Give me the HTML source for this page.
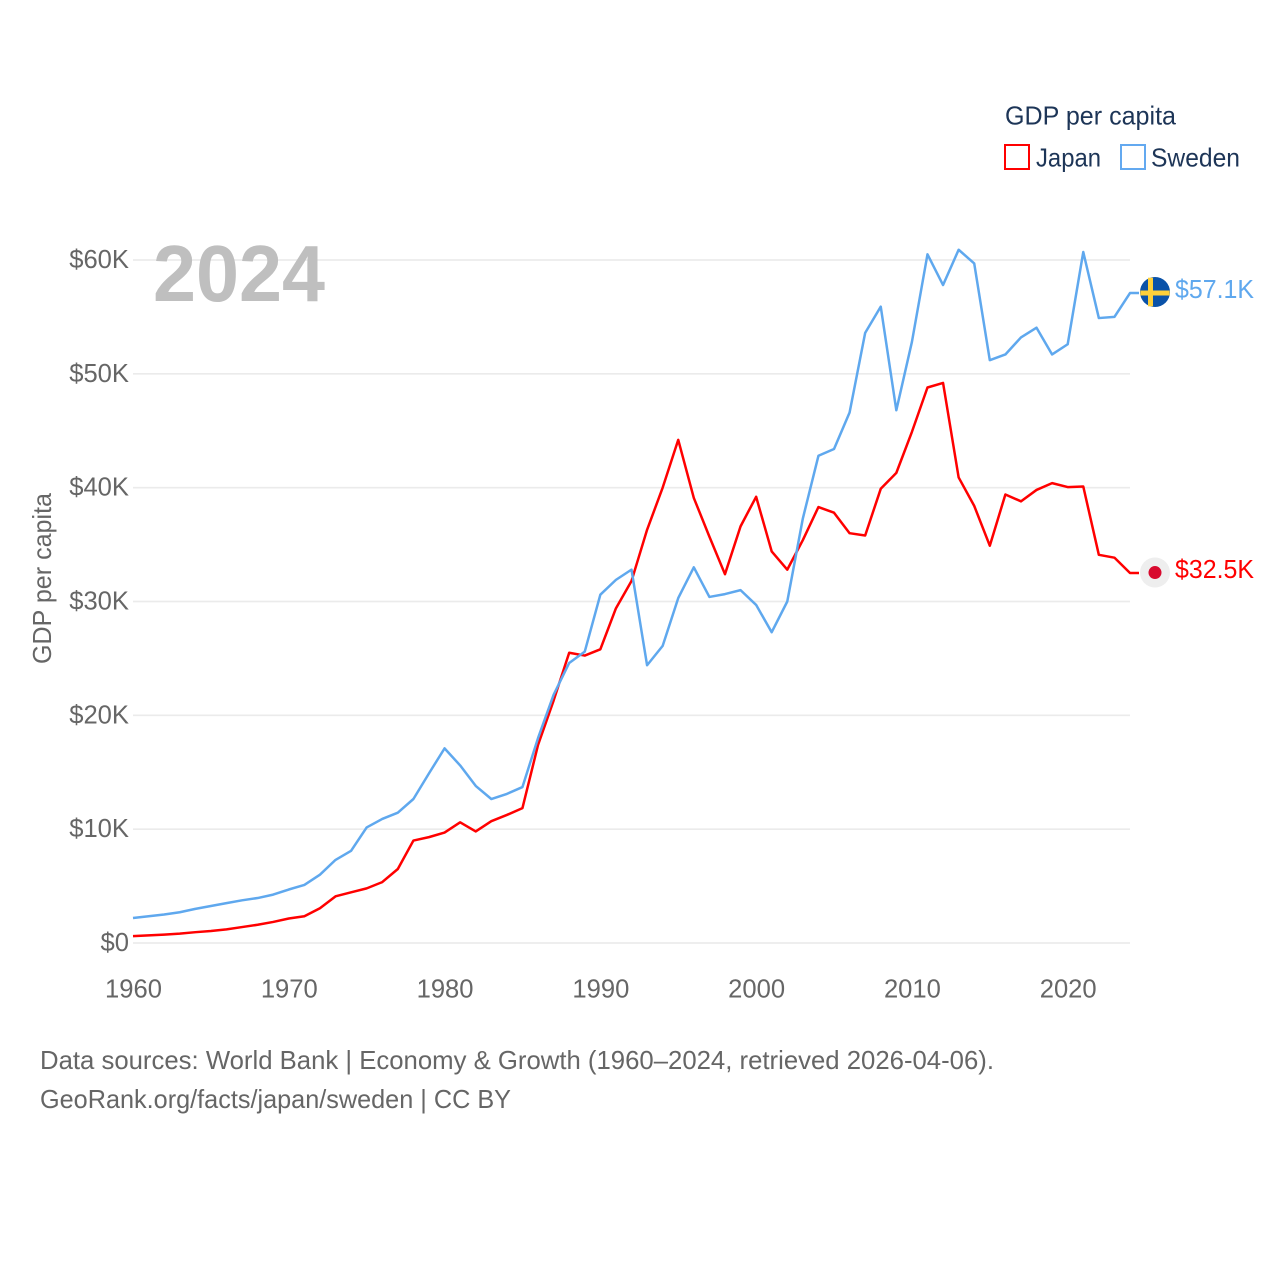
<!DOCTYPE html>
<html lang="en">
<head>
<meta charset="utf-8">
<title>GDP per capita: Japan and Sweden</title>
<style>
html,body{margin:0;padding:0;background:#fff;}
svg{display:block;font-family:"Liberation Sans",sans-serif;}
</style>
</head>
<body>
<svg id="chart" width="1280" height="1280" viewBox="0 0 1280 1280" xmlns="http://www.w3.org/2000/svg">
  <rect width="1280" height="1280" fill="#fff"/>
  <g id="grid"></g>
  <g id="yticks"></g>
  <g id="xticks"></g>
  <text x="153" y="301" font-size="80" font-weight="bold" fill="#bfbfbf" textLength="172" lengthAdjust="spacingAndGlyphs">2024</text>
  <text transform="translate(51,664) rotate(-90)" font-size="25.6" fill="#666" textLength="171" lengthAdjust="spacingAndGlyphs">GDP per capita</text>
  <g id="series"></g>
  <g id="endpoints"></g>
  <g>
    <text x="1005" y="124.5" font-size="25.6" fill="#1d3557" textLength="171" lengthAdjust="spacingAndGlyphs">GDP per capita</text>
    <g>
      <rect x="1005" y="145" width="24" height="24" fill="#fff" stroke="#ff0000" stroke-width="2"/>
      <text x="1036" y="166.5" font-size="25.6" fill="#1d3557" textLength="65" lengthAdjust="spacingAndGlyphs">Japan</text>
    </g>
    <g>
      <rect x="1121" y="145" width="24" height="24" fill="#fff" stroke="#63a9f0" stroke-width="2"/>
      <text x="1151" y="166.5" font-size="25.6" fill="#1d3557" textLength="89" lengthAdjust="spacingAndGlyphs">Sweden</text>
    </g>
  </g>
  <text x="40" y="1069" font-size="25.6" fill="#666" textLength="954" lengthAdjust="spacingAndGlyphs">Data sources: World Bank | Economy &amp; Growth (1960–2024, retrieved 2026-04-06).</text>
  <text x="40" y="1108" font-size="25.6" fill="#666" textLength="471" lengthAdjust="spacingAndGlyphs">GeoRank.org/facts/japan/sweden | CC BY</text>
</svg>
<script>
const startYear = 1960;
const yTicks = [0, 10, 20, 30, 40, 50, 60];
const xTicks = [1960, 1970, 1980, 1990, 2000, 2010, 2020];
const japanValues = [
  0.6, 0.67, 0.74, 0.82, 0.95, 1.05, 1.2, 1.4, 1.6, 1.85,
  2.15, 2.35, 3.05, 4.1, 4.45, 4.8, 5.35, 6.5, 9.0, 9.3,
  9.7, 10.6, 9.8, 10.7, 11.25, 11.85, 17.4, 21.3, 25.5, 25.25,
  25.8, 29.4, 31.8, 36.3, 40.0, 44.2, 39.1, 35.7, 32.4, 36.6,
  39.2, 34.4, 32.8, 35.4, 38.3, 37.8, 36.0, 35.8, 39.9, 41.3,
  44.9, 48.8, 49.2, 40.9, 38.4, 34.9, 39.4, 38.8, 39.8, 40.4,
  40.05, 40.1, 34.1, 33.85, 32.5
];
const swedenValues = [
  2.2, 2.35, 2.5, 2.7, 3.0, 3.25, 3.5, 3.75, 3.95, 4.25,
  4.7, 5.1, 6.0, 7.3, 8.1, 10.15, 10.9, 11.45, 12.65, 14.9,
  17.1, 15.6, 13.8, 12.65, 13.1, 13.7, 18.0, 21.8, 24.6, 25.6,
  30.6, 31.9, 32.8, 24.4, 26.1, 30.3, 33.0, 30.4, 30.65, 31.0,
  29.7, 27.3, 30.0, 37.3, 42.8, 43.4, 46.6, 53.6, 55.9, 46.8,
  52.8, 60.5, 57.8, 60.9, 59.7, 51.2, 51.7, 53.2, 54.05, 51.7,
  52.6, 60.7, 54.9, 55.0, 57.1
];

const NS = 'http://www.w3.org/2000/svg';
const plotLeft = 133, plotRight = 1130, plotBottom = 943, plotTop = 260;
const lastYear = startYear + japanValues.length - 1;
const xScale = function (year) {
  return plotLeft + (year - startYear) * (plotRight - plotLeft) / (lastYear - startYear);
};
const yScale = function (value) {
  return plotBottom - value * (plotBottom - plotTop) / 60;
};
const make = function (tag, parentId) {
  const el = document.createElementNS(NS, tag);
  document.getElementById(parentId).appendChild(el);
  return el;
};

yTicks.forEach(function (t) {
  const line = make('line', 'grid');
  
  
  line.setAttribute('x1', plotLeft);
  line.setAttribute('x2', plotRight);
  line.setAttribute('y1', yScale(t));
  line.setAttribute('y2', yScale(t));
  line.setAttribute('stroke', '#ebebeb');
  line.setAttribute('stroke-width', '1.7');

  const label = make('text', 'yticks');
  
  
  label.setAttribute('x', plotLeft - 4);
  label.setAttribute('y', yScale(t) + 8);
  label.setAttribute('text-anchor', 'end');
  label.setAttribute('font-size', '25.6');
  label.setAttribute('fill', '#666');
  label.textContent = t === 0 ? '$0' : '$' + t + 'K';
});

xTicks.forEach(function (t) {
  const label = make('text', 'xticks');
  
  
  label.setAttribute('x', xScale(t) + 0.5);
  label.setAttribute('y', 997.5);
  label.setAttribute('text-anchor', 'middle');
  label.setAttribute('font-size', '25.6');
  label.setAttribute('fill', '#666');
  label.textContent = String(t);
});

const connector = 9;
const drawSeries = function (values, color, name) {
  const pts = values.map(function (v, i) {
    return xScale(startYear + i).toFixed(2) + ',' + yScale(v).toFixed(2);
  });
  const endY = yScale(values[values.length - 1]);
  pts.push((plotRight + connector) + ',' + endY.toFixed(2));
  const line = make('polyline', 'series');
  
  
  line.setAttribute('points', pts.join(' '));
  line.setAttribute('fill', 'none');
  line.setAttribute('stroke', color);
  line.setAttribute('stroke-width', '2.5');
  line.setAttribute('stroke-linejoin', 'round');

  const label = make('text', 'endpoints');
  
  
  label.setAttribute('x', 1175);
  label.setAttribute('y', endY + 5);
  label.setAttribute('font-size', '25.6');
  label.setAttribute('fill', color);
  label.setAttribute('textLength', '79');
  label.setAttribute('lengthAdjust', 'spacingAndGlyphs');
  label.textContent = '$' + values[values.length - 1].toFixed(1) + 'K';
  return endY;
};

const japanEndY = drawSeries(japanValues, '#ff0000', 'japan');
const swedenEndY = drawSeries(swedenValues, '#5fa8ee', 'sweden');

const flagX = 1155, flagR = 15;

const jpBase = make('circle', 'endpoints');


jpBase.setAttribute('cx', flagX);
jpBase.setAttribute('cy', japanEndY - 0.5);
jpBase.setAttribute('r', flagR);
jpBase.setAttribute('fill', '#eeeeee');

const jpDisc = make('circle', 'endpoints');


jpDisc.setAttribute('cx', flagX);
jpDisc.setAttribute('cy', japanEndY - 0.5);
jpDisc.setAttribute('r', 6.5);
jpDisc.setAttribute('fill', '#d80a2e');

const seBase = make('circle', 'endpoints');


seBase.setAttribute('cx', flagX);
seBase.setAttribute('cy', swedenEndY - 1);
seBase.setAttribute('r', flagR);
seBase.setAttribute('fill', '#0a52a8');

const seVert = make('rect', 'endpoints');


seVert.setAttribute('x', flagX - 7);
seVert.setAttribute('y', swedenEndY - flagR - 0.3);
seVert.setAttribute('width', 5);
seVert.setAttribute('height', 2 * flagR - 1.4);
seVert.setAttribute('fill', '#fdd03a');

const seHorz = make('rect', 'endpoints');


seHorz.setAttribute('x', flagX - flagR + 0.3);
seHorz.setAttribute('y', swedenEndY - 2.5);
seHorz.setAttribute('width', 2 * flagR - 0.6);
seHorz.setAttribute('height', 5);
seHorz.setAttribute('fill', '#fdd03a');
</script>
</body>
</html>
